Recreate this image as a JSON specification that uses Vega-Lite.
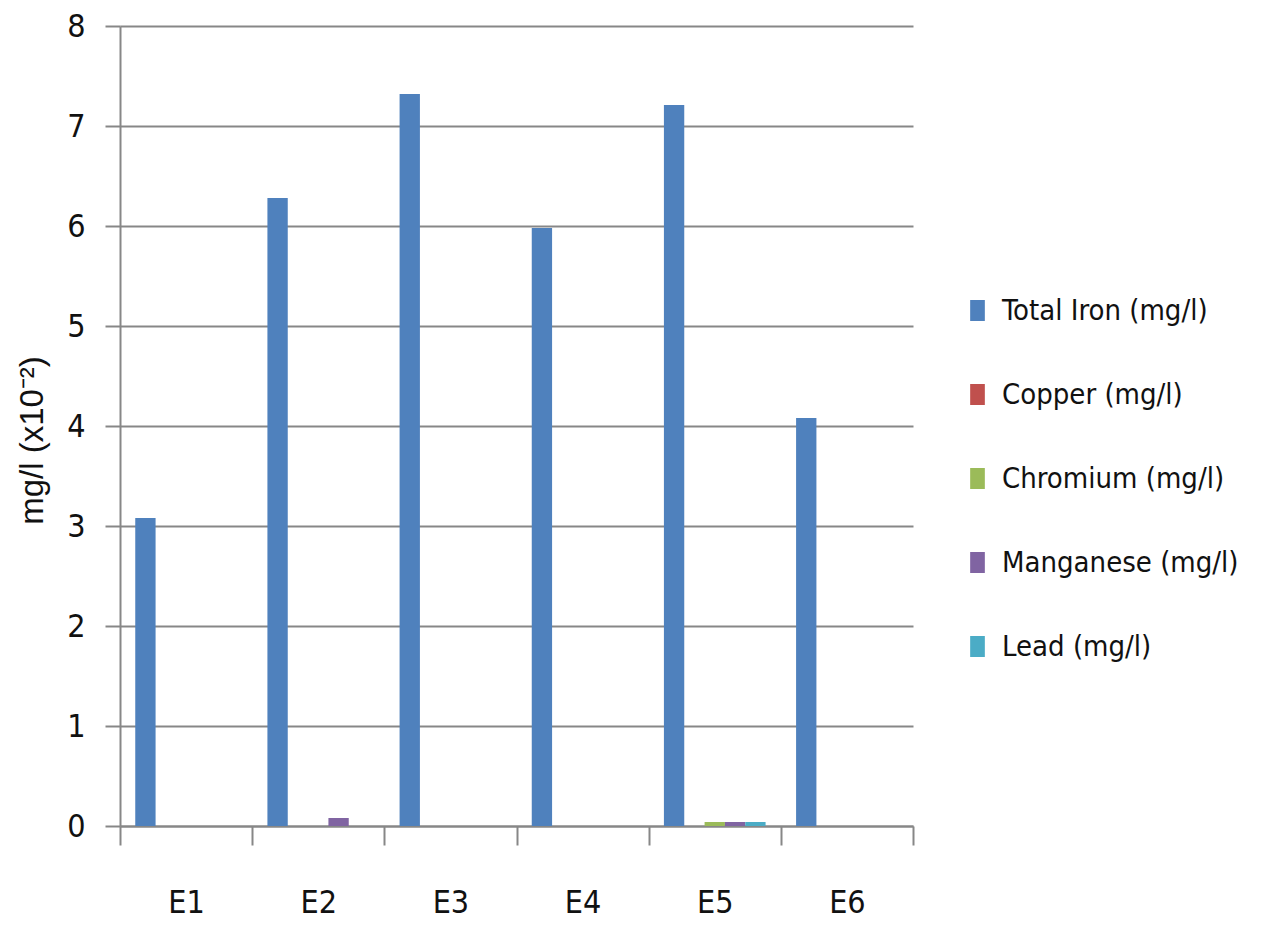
{
  "$schema": "https://vega.github.io/schema/vega-lite/v6.json",
  "autosize": "none",
  "width": 793,
  "height": 800,
  "padding": {"left": 120, "top": 26, "right": 351, "bottom": 99},
  "background": "white",
  "data": {
    "values": [
      {"site": "E1", "metal": "Total Iron (mg/l)", "value": 3.08},
      {"site": "E1", "metal": "Copper (mg/l)", "value": 0},
      {"site": "E1", "metal": "Chromium (mg/l)", "value": 0},
      {"site": "E1", "metal": "Manganese (mg/l)", "value": 0},
      {"site": "E1", "metal": "Lead (mg/l)", "value": 0},
      {"site": "E2", "metal": "Total Iron (mg/l)", "value": 6.28},
      {"site": "E2", "metal": "Copper (mg/l)", "value": 0},
      {"site": "E2", "metal": "Chromium (mg/l)", "value": 0},
      {"site": "E2", "metal": "Manganese (mg/l)", "value": 0.08},
      {"site": "E2", "metal": "Lead (mg/l)", "value": 0},
      {"site": "E3", "metal": "Total Iron (mg/l)", "value": 7.32},
      {"site": "E3", "metal": "Copper (mg/l)", "value": 0},
      {"site": "E3", "metal": "Chromium (mg/l)", "value": 0},
      {"site": "E3", "metal": "Manganese (mg/l)", "value": 0},
      {"site": "E3", "metal": "Lead (mg/l)", "value": 0},
      {"site": "E4", "metal": "Total Iron (mg/l)", "value": 5.98},
      {"site": "E4", "metal": "Copper (mg/l)", "value": 0},
      {"site": "E4", "metal": "Chromium (mg/l)", "value": 0},
      {"site": "E4", "metal": "Manganese (mg/l)", "value": 0},
      {"site": "E4", "metal": "Lead (mg/l)", "value": 0},
      {"site": "E5", "metal": "Total Iron (mg/l)", "value": 7.21},
      {"site": "E5", "metal": "Copper (mg/l)", "value": 0},
      {"site": "E5", "metal": "Chromium (mg/l)", "value": 0.04},
      {"site": "E5", "metal": "Manganese (mg/l)", "value": 0.04},
      {"site": "E5", "metal": "Lead (mg/l)", "value": 0.04},
      {"site": "E6", "metal": "Total Iron (mg/l)", "value": 4.08},
      {"site": "E6", "metal": "Copper (mg/l)", "value": 0},
      {"site": "E6", "metal": "Chromium (mg/l)", "value": 0},
      {"site": "E6", "metal": "Manganese (mg/l)", "value": 0},
      {"site": "E6", "metal": "Lead (mg/l)", "value": 0}
    ]
  },
  "mark": {"type": "bar"},
  "encoding": {
    "x": {
      "field": "site",
      "type": "nominal",
      "scale": {"paddingInner": 0, "paddingOuter": 0},
      "axis": {
        "title": null,
        "labelAngle": 0,
        "tickBand": "extent",
        "tickSize": 19,
        "tickColor": "#878787",
        "tickWidth": 2,
        "domainColor": "#878787",
        "domainWidth": 2,
        "labelFont": "DejaVu Sans Condensed",
        "labelFontSize": 32,
        "labelColor": "#111111",
        "labelPadding": 42,
        "grid": false
      }
    },
    "xOffset": {
      "field": "metal",
      "type": "nominal",
      "sort": ["Total Iron (mg/l)", "Copper (mg/l)", "Chromium (mg/l)", "Manganese (mg/l)", "Lead (mg/l)"],
      "scale": {"paddingInner": 0, "paddingOuter": 0.75}
    },
    "y": {
      "field": "value",
      "type": "quantitative",
      "scale": {"domain": [0, 8], "nice": false},
      "axis": {
        "title": "mg/l (x10⁻²)",
        "titleFont": "Liberation Sans",
        "titleFontSize": 33,
        "titleFontWeight": "normal",
        "titleColor": "#111111",
        "titlePadding": 17,
        "titleY": 414,
        "values": [0, 1, 2, 3, 4, 5, 6, 7, 8],
        "tickSize": 15,
        "tickColor": "#878787",
        "tickWidth": 2,
        "domainColor": "#878787",
        "domainWidth": 2,
        "gridColor": "#878787",
        "gridWidth": 2,
        "labelFont": "DejaVu Sans Condensed",
        "labelFontSize": 32,
        "labelColor": "#111111",
        "labelPadding": 20
      }
    },
    "color": {
      "field": "metal",
      "type": "nominal",
      "sort": ["Total Iron (mg/l)", "Copper (mg/l)", "Chromium (mg/l)", "Manganese (mg/l)", "Lead (mg/l)"],
      "scale": {
        "domain": ["Total Iron (mg/l)", "Copper (mg/l)", "Chromium (mg/l)", "Manganese (mg/l)", "Lead (mg/l)"],
        "range": ["#4F81BD", "#C0504D", "#9BBB59", "#8064A2", "#4BACC6"]
      },
      "legend": {
        "title": null,
        "orient": "none",
        "legendX": 843,
        "legendY": 270,
        "symbolType": "M-0.7,-1H0.7V1H-0.7Z",
        "symbolSize": 440,
        "symbolStrokeWidth": 0,
        "labelFont": "DejaVu Sans Condensed",
        "labelFontSize": 29,
        "labelColor": "#111111",
        "labelOffset": 10,
        "labelLimit": 400,
        "rowPadding": 54
      }
    }
  },
  "config": {
    "view": {"stroke": null}
  }
}
